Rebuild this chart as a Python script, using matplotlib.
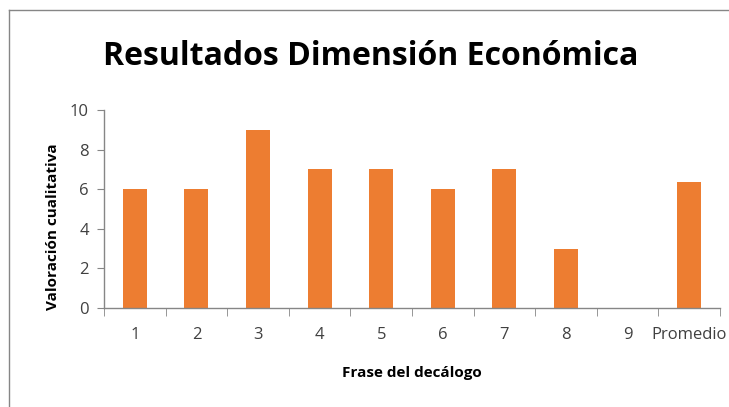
import matplotlib
matplotlib.use('Agg')
import matplotlib.pyplot as plt
from matplotlib.lines import Line2D
import numpy as np

categories = ['1', '2', '3', '4', '5', '6', '7', '8', '9', 'Promedio']
values = [6, 6, 9, 7, 7, 6, 7, 3, 0, 6.375]

bar_color = '#ED7D31'
axis_gray = '#868686'
text_gray = '#404040'

plt.rcParams['font.family'] = ['Open Sans', 'DejaVu Sans']

fig = plt.figure(figsize=(7.29, 4.07), dpi=100)
ax = fig.add_axes([0.1427, 0.2432, 0.8450, 0.4865])

x = np.arange(len(categories))
ax.bar(x, values, width=0.39, color=bar_color, zorder=2)

ax.set_xlim(-0.5, len(categories) - 0.5)
ax.set_ylim(0, 10)
ax.set_yticks(range(0, 11, 2))
ax.set_xticks(x)
ax.set_xticklabels(categories)
ax.set_xticks(np.arange(-0.5, len(categories), 1.0), minor=True)

for s in ['top', 'right']:
    ax.spines[s].set_visible(False)
for s in ['left', 'bottom']:
    ax.spines[s].set_color(axis_gray)
    ax.spines[s].set_linewidth(1.0)

ax.tick_params(axis='x', which='major', length=0, pad=14, labelsize=12, labelcolor=text_gray)
ax.tick_params(axis='x', which='minor', length=6, color=axis_gray, direction='out')
ax.tick_params(axis='y', length=5, color=axis_gray, pad=6, labelsize=12, labelcolor=text_gray)
# Promedio label overflows the right edge in the original
for lbl in ax.get_xticklabels():
    if lbl.get_text() == 'Promedio':
        lbl.set_clip_on(False)

ax.set_xlabel('Frase del decálogo', fontsize=11, fontweight='bold', labelpad=16)
ax.set_ylabel('Valoración cualitativa', fontsize=11, fontweight='bold')
ax.yaxis.set_label_coords(-0.071, 0.41)

fig.text(0.508, 0.862, 'Resultados Dimensión Económica', ha='center', va='center',
         fontsize=23, fontweight='bold', color='black')

# outer chart border (left and top edges visible)
fig.add_artist(Line2D([9/729, 9/729], [0, 1 - 10/407], transform=fig.transFigure,
                      color=axis_gray, lw=1))
fig.add_artist(Line2D([9/729, 1], [1 - 10/407, 1 - 10/407], transform=fig.transFigure,
                      color=axis_gray, lw=1))

fig.savefig('out.png', dpi=100)
